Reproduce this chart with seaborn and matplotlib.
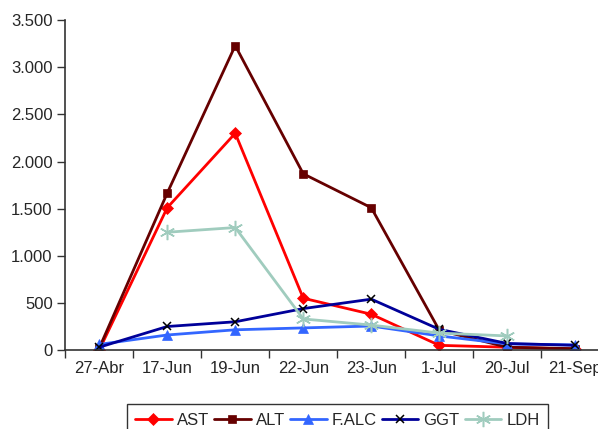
import numpy as np
import pandas as pd
import seaborn as sns
import matplotlib.pyplot as plt
from matplotlib.ticker import FuncFormatter

# Dados
datas = ['27-Abr', '17-Jun', '19-Jun', '22-Jun', '23-Jun', '1-Jul', '20-Jul', '21-Sep']
ast = [0, 1510, 2300, 550, 380, 50, 30, 10]
alt = [20, 1665, 3230, 1870, 1510, 210, 30, 15]
falc = [60, 160, 215, 235, 255, 150, 65, 55]
ggt = [30, 250, 300, 440, 540, 220, 70, 50]
ldh = [np.nan, 1250, 1300, 330, 265, 180, 150, np.nan]

series = {
    'AST': (ast, '#FF0000', 'D', '#FF0000', 6),
    'ALT': (alt, '#660000', 's', '#660000', 6),
    'F.ALC': (falc, '#3366FF', '^', '#3366FF', 7),
    'GGT': (ggt, '#000099', 'x', '#000000', 6),
    'LDH': (ldh, '#A0CCBE', (6, 2, 0), '#A0CCBE', 11),
}

sns.set_style('ticks')
plt.rcParams['font.family'] = ['Liberation Sans', 'DejaVu Sans']

fig = plt.figure(figsize=(5.98, 4.29), dpi=100)
ax = fig.add_axes([0.109, 0.184, 0.91, 0.769])

pos = np.arange(len(datas))
for nome, (vals, cor, mk, mcor, ms) in series.items():
    df = pd.DataFrame({'x': pos, 'y': vals}).dropna()
    sns.lineplot(data=df, x='x', y='y', ax=ax, color=cor, lw=2, marker=mk,
                 markersize=ms, markerfacecolor=mcor, markeredgecolor=mcor,
                 markeredgewidth=1.1 if mk in ('x', (6, 2, 0)) else 0.5,
                 label=nome, sort=False, legend=False)

ax.set_xlim(-0.5, 7.5)
ax.set_ylim(0, 3500)
ax.set_yticks(range(0, 3501, 500))
ax.yaxis.set_major_formatter(FuncFormatter(lambda v, p: f'{int(v):,}'.replace(',', '.')))
ax.set_xticks(pos)
ax.set_xticklabels(datas)
ax.set_xticks(np.arange(-0.5, 8, 1), minor=True)
ax.tick_params(axis='x', which='major', length=0, pad=8, labelsize=12)
ax.tick_params(axis='x', which='minor', length=6, width=1, color='#333333', direction='out')
ax.tick_params(axis='y', length=6, width=1, color='#333333', labelsize=12, pad=3)
ax.set_xlabel('')
ax.set_ylabel('')
for s in ['top', 'right']:
    ax.spines[s].set_visible(False)
for s in ['left', 'bottom']:
    ax.spines[s].set_color('#333333')
    ax.spines[s].set_linewidth(1.2)

h, l = ax.get_legend_handles_labels()
leg = fig.legend(h, l, loc='upper center', bbox_to_anchor=(0.564, 0.077), ncol=5,
                 frameon=True, fancybox=False, edgecolor='black', fontsize=12,
                 handlelength=2.2, handletextpad=0.3, columnspacing=0.3, borderpad=0.5)
leg.get_frame().set_linewidth(1)

fig.savefig('out.png', dpi=100)
